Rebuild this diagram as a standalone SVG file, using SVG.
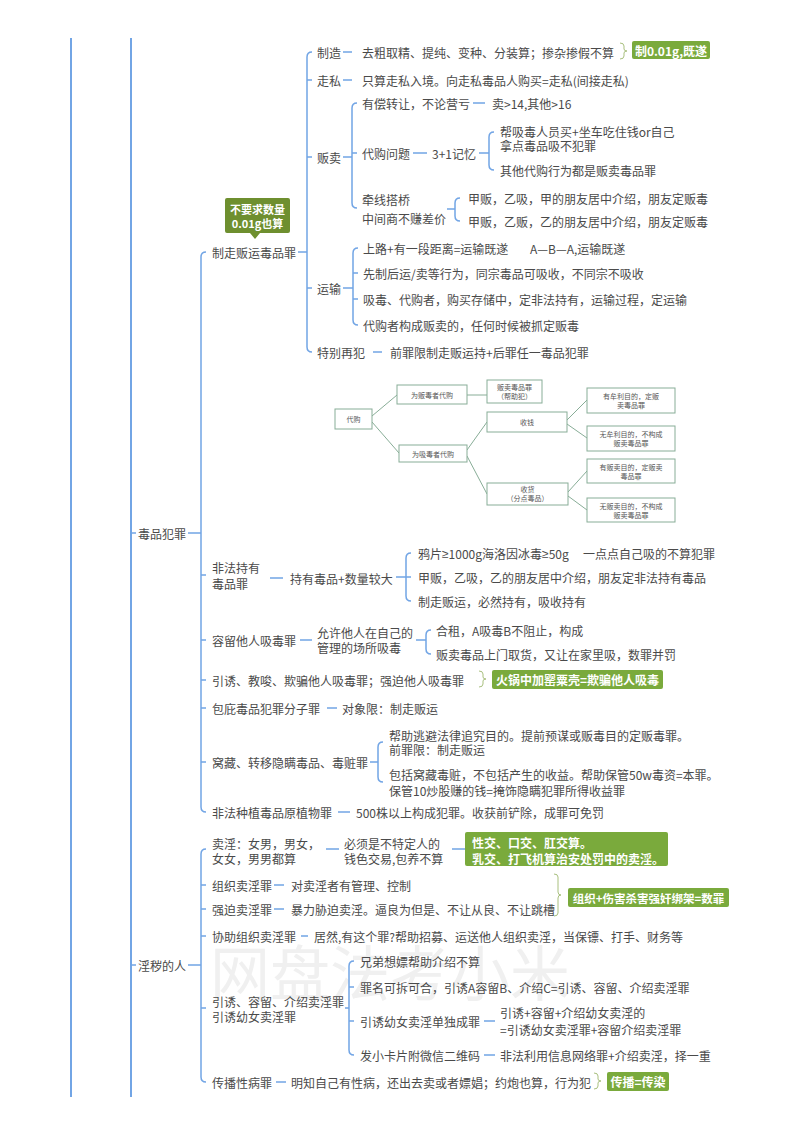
<svg xmlns="http://www.w3.org/2000/svg" width="800" height="1132" viewBox="0 0 800 1132">
<style>
.t{font-family:"Noto Sans CJK SC","Noto Sans",sans-serif;font-size:12px;fill:#4a4a4a;dominant-baseline:central}
.l{fill:none;stroke:#72a5e5;stroke-width:1.5}
.m{fill:none;stroke:#72a5e5;stroke-width:2}
.g{fill:#7aaa3c}
.gd{fill:#6e8f2f}
.gt{font-family:"Noto Sans CJK SC","Noto Sans",sans-serif;font-size:12px;font-weight:bold;fill:#fff;dominant-baseline:central}
.br{fill:none;stroke:#a9c07f;stroke-width:1}
.b{fill:#fff;stroke:#88ad97;stroke-width:1}
.bl{fill:none;stroke:#88ad97;stroke-width:1}
.s{font-family:"Noto Sans CJK SC","Noto Sans",sans-serif;font-size:7px;fill:#555;text-anchor:middle;dominant-baseline:central}
.wm{font-family:"Noto Sans CJK SC",sans-serif;font-size:60px;fill:#f0f0f0}
.n{font-family:"Noto Sans",sans-serif}
</style>
<rect width="800" height="1132" fill="#fff"/>
<text class="wm" x="210" y="996">网盘法考小米</text>

<g id="connectors">
<path class="m" d="M71 38V1097M131 38V1097"/>
<path class="l" d="M131 533h5M131 965h5M188 533H201M188 965H201"/>
<path class="l" d="M206 252Q201 252 201 257V807Q201 812 206 812M201 575h5M201 640h5M201 680h5M201 708h5M201 762h5"/>
<path class="l" d="M206 849Q201 849 201 854V1077Q201 1082 206 1082M201 885h5M201 909h5M201 936h5M201 1008h5"/>
<path class="l" d="M298 252H307M312 52Q307 52 307 57V347Q307 352 312 352M307 80h5M307 157h5M307 288h5"/>
<path class="l" d="M343 52H352M343 80H352"/>
<path class="l" d="M343 157H352M357 103Q352 103 352 108V203Q352 208 357 208M352 153h5"/>
<path class="l" d="M473 103H485M413 153H427"/>
<path class="l" d="M479 153H489M494 132Q489 132 489 137V165Q489 170 494 170"/>
<path class="l" d="M447 209H455M460 198Q455 198 455 203V216Q455 221 460 221"/>
<path class="l" d="M343 288H353M358 248Q353 248 353 253V320Q353 325 358 325M353 273h5M353 299h5"/>
<path class="l" d="M373 352H382"/>
<path class="l" d="M270 578H283M396 577H406M411 553Q406 553 406 558V596Q406 601 411 601M406 577h5"/>
<path class="l" d="M300 640H312M416 640H426M431 630Q426 630 426 635V649Q426 654 431 654"/>
<path class="l" d="M327 708H337"/>
<path class="l" d="M370 762H378M383 742Q378 742 378 747V777Q378 782 383 782"/>
<path class="l" d="M338 812H350"/>
<path class="l" d="M326 849H339M452 849H465"/>
<path class="l" d="M274 885H284M274 909H284M301 936H308"/>
<path class="l" d="M345 1008H349M354 961Q349 961 349 966V1050Q349 1055 354 1055M349 987h5M349 1021h5"/>
<path class="l" d="M484 1021H495M484 1055H495"/>
<path class="l" d="M276 1082H286"/>
<path class="br" d="M620 43q4 0 4 3v3q0 2 3 2q-3 0 -3 2v3q0 3 -4 3"/>
<path class="br" d="M479 671q4 0 4 3v3q0 2 3 2q-3 0 -3 2v3q0 3 -4 3"/>
<path class="br" d="M554 874q4 0 4 3v15q0 3 3 3q-3 0 -3 3v15q0 3 -4 3"/>
<path class="br" d="M594 1073q4 0 4 3v3q0 2 3 2q-3 0 -3 2v3q0 3 -4 3"/>
</g>

<g id="root">
<text class="t" x="138" y="533">毒品犯罪</text>
<text class="t" x="138" y="965">淫秽的人</text>
</g>

<g id="n-zhizou">
<text class="t" x="212" y="252">制走贩运毒品罪</text>
<path class="gd" d="M227 198H288Q290 198 290 200V231Q290 233 288 233H260L255 239L250 233H227Q225 233 225 231V200Q225 198 227 198Z"/>
<text class="gt" x="257.5" y="209" text-anchor="middle" style="font-size:11px">不要求数量</text>
<text class="gt" x="257.5" y="223" text-anchor="middle" style="font-size:11px">0.01g也算</text>
</g>

<g id="n-zhizao">
<text class="t" x="317" y="52">制造</text>
<text class="t" x="362" y="52">去粗取精、提纯、变种、分装算；掺杂掺假不算</text>
<rect class="g" x="632" y="41" width="78" height="18" rx="2"/>
<text class="gt" x="671" y="50" text-anchor="middle">制0.01g,既遂</text>
</g>
<g id="n-zousi">
<text class="t" x="317" y="80">走私</text>
<text class="t" x="362" y="80">只算走私入境。向走私毒品人购买=走私(间接走私)</text>
</g>
<g id="n-fanmai">
<text class="t" x="317" y="157">贩卖</text>
<text class="t" x="362" y="103">有偿转让，不论营亏</text>
<text class="t" x="492" y="103">卖&gt;14,其他&gt;16</text>
<text class="t" x="362" y="153">代购问题</text>
<text class="t" x="432" y="153">3+1记忆</text>
<text class="t" x="500" y="131">帮吸毒人员买+坐车吃住钱or自己</text>
<text class="t" x="500" y="145">拿点毒品吸不犯罪</text>
<text class="t" x="500" y="170">其他代购行为都是贩卖毒品罪</text>
<text class="t" x="362" y="199">牵线搭桥</text>
<text class="t" x="362" y="218">中间商不赚差价</text>
<text class="t" x="468" y="198">甲贩，乙吸，甲的朋友居中介绍，朋友定贩毒</text>
<text class="t" x="468" y="221">甲贩，乙贩，乙的朋友居中介绍，朋友定贩毒</text>
</g>
<g id="n-yunshu">
<text class="t" x="317" y="288">运输</text>
<text class="t" x="363" y="248">上路+有一段距离=运输既遂</text>
<text class="t" x="530" y="248">A—B—A,运输既遂</text>
<text class="t" x="363" y="273">先制后运/卖等行为，同宗毒品可吸收，不同宗不吸收</text>
<text class="t" x="363" y="299">吸毒、代购者，购买存储中，定非法持有，运输过程，定运输</text>
<text class="t" x="363" y="325">代购者构成贩卖的，任何时候被抓定贩毒</text>
</g>
<g id="n-tebie">
<text class="t" x="317" y="352">特别再犯</text>
<text class="t" x="390" y="352">前罪限制走贩运持+后罪任一毒品犯罪</text>
</g>

<g id="inset">
<path class="bl" d="M372 416L397 395M372 422L399 453M467 395H487M467 450L487 422M467 456L487 494M567 420L587 400M567 424L587 438M568 492L587 471M568 496L587 510"/>
<rect class="b" x="335" y="409" width="37" height="20"/>
<text class="s" x="353.5" y="419">代购</text>
<rect class="b" x="397" y="385" width="70" height="19"/>
<text class="s" x="432" y="394.5">为贩毒者代购</text>
<rect class="b" x="487" y="380" width="55" height="23"/>
<text class="s" x="514.5" y="387">贩卖毒品罪</text>
<text class="s" x="514.5" y="396">（帮助犯）</text>
<rect class="b" x="399" y="445" width="68" height="17"/>
<text class="s" x="433" y="453.5">为吸毒者代购</text>
<rect class="b" x="487" y="412" width="80" height="20"/>
<text class="s" x="527" y="422">收钱</text>
<rect class="b" x="487" y="483" width="81" height="22"/>
<text class="s" x="527.5" y="489">收货</text>
<text class="s" x="527.5" y="498">（分点毒品）</text>
<rect class="b" x="587" y="388" width="88" height="25"/>
<text class="s" x="631" y="396">有牟利目的，定贩</text>
<text class="s" x="631" y="405">卖毒品罪</text>
<rect class="b" x="587" y="426" width="88" height="25"/>
<text class="s" x="631" y="434">无牟利目的，不构成</text>
<text class="s" x="631" y="443">贩卖毒品罪</text>
<rect class="b" x="587" y="459" width="88" height="24"/>
<text class="s" x="631" y="467">有贩卖目的，定贩卖</text>
<text class="s" x="631" y="476">毒品罪</text>
<rect class="b" x="587" y="498" width="88" height="24"/>
<text class="s" x="631" y="506">无贩卖目的，不构成</text>
<text class="s" x="631" y="515">贩卖毒品罪</text>
</g>

<g id="n-feifachiyou">
<text class="t" x="212" y="567">非法持有</text>
<text class="t" x="212" y="583">毒品罪</text>
<text class="t" x="290" y="578">持有毒品+数量较大</text>
<text class="t" x="418" y="553">鸦片<tspan class="n">≥</tspan>1000g海洛因冰毒<tspan class="n">≥</tspan>50g</text>
<text class="t" x="583" y="553">一点点自己吸的不算犯罪</text>
<text class="t" x="418" y="577">甲贩，乙吸，乙的朋友居中介绍，朋友定非法持有毒品</text>
<text class="t" x="418" y="601">制走贩运，必然持有，吸收持有</text>
</g>
<g id="n-rongliu">
<text class="t" x="212" y="640">容留他人吸毒罪</text>
<text class="t" x="317" y="632">允许他人在自己的</text>
<text class="t" x="317" y="647">管理的场所吸毒</text>
<text class="t" x="436" y="630">合租，A吸毒B不阻止，构成</text>
<text class="t" x="436" y="654">贩卖毒品上门取货，又让在家里吸，数罪并罚</text>
</g>
<g id="n-yinyou">
<text class="t" x="212" y="680">引诱、教唆、欺骗他人吸毒罪；强迫他人吸毒罪</text>
<rect class="g" x="492" y="670" width="171" height="19" rx="2"/>
<text class="gt" x="577.5" y="679.5" text-anchor="middle">火锅中加罂粟壳=欺骗他人吸毒</text>
</g>
<g id="n-baobi">
<text class="t" x="212" y="708">包庇毒品犯罪分子罪</text>
<text class="t" x="342" y="708">对象限：制走贩运</text>
</g>
<g id="n-wocang">
<text class="t" x="212" y="762">窝藏、转移隐瞒毒品、毒赃罪</text>
<text class="t" x="389" y="735">帮助逃避法律追究目的。提前预谋或贩毒目的定贩毒罪。</text>
<text class="t" x="389" y="749">前罪限：制走贩运</text>
<text class="t" x="389" y="774">包括窝藏毒赃，不包括产生的收益。帮助保管50w毒资=本罪。</text>
<text class="t" x="389" y="790">保管10炒股赚的钱=掩饰隐瞒犯罪所得收益罪</text>
</g>
<g id="n-zhongzhi">
<text class="t" x="212" y="812">非法种植毒品原植物罪</text>
<text class="t" x="356" y="812">500株以上构成犯罪。收获前铲除，成罪可免罚</text>
</g>

<g id="n-maiyin">
<text class="t" x="212" y="843">卖淫：女男，男女，</text>
<text class="t" x="212" y="858">女女，男男都算</text>
<text class="t" x="344" y="843">必须是不特定人的</text>
<text class="t" x="344" y="858">钱色交易,包养不算</text>
<rect class="g" x="465" y="832" width="203" height="34" rx="2"/>
<text class="gt" x="472" y="842">性交、口交、肛交算。</text>
<text class="gt" x="472" y="858">乳交、打飞机算治安处罚中的卖淫。</text>
</g>
<g id="n-zuzhi">
<text class="t" x="212" y="885">组织卖淫罪</text>
<text class="t" x="291" y="885">对卖淫者有管理、控制</text>
</g>
<g id="n-qiangpo">
<text class="t" x="212" y="909">强迫卖淫罪</text>
<text class="t" x="291" y="909">暴力胁迫卖淫。逼良为但是、不让从良、不让跳槽</text>
<rect class="g" x="568" y="888" width="161" height="19" rx="2"/>
<text class="gt" x="648.5" y="897.5" text-anchor="middle" style="font-size:11.5px">组织+伤害杀害强奸绑架=数罪</text>
</g>
<g id="n-xiezhu">
<text class="t" x="212" y="936">协助组织卖淫罪</text>
<text class="t" x="314" y="936">居然,有这个罪?帮助招募、运送他人组织卖淫，当保镖、打手、财务等</text>
</g>
<g id="n-yinyourongliu">
<text class="t" x="212" y="1001">引诱、容留、介绍卖淫罪</text>
<text class="t" x="212" y="1016">引诱幼女卖淫罪</text>
<text class="t" x="360" y="961">兄弟想嫖帮助介绍不算</text>
<text class="t" x="360" y="987">罪名可拆可合，引诱A容留B、介绍C=引诱、容留、介绍卖淫罪</text>
<text class="t" x="360" y="1021">引诱幼女卖淫单独成罪</text>
<text class="t" x="500" y="1012">引诱+容留+介绍幼女卖淫的</text>
<text class="t" x="500" y="1029">=引诱幼女卖淫罪+容留介绍卖淫罪</text>
<text class="t" x="360" y="1055">发小卡片附微信二维码</text>
<text class="t" x="500" y="1055">非法利用信息网络罪+介绍卖淫，择一重</text>
</g>
<g id="n-chuanbo">
<text class="t" x="212" y="1082">传播性病罪</text>
<text class="t" x="291" y="1082">明知自己有性病，还出去卖或者嫖娼；约炮也算，行为犯</text>
<rect class="g" x="607" y="1072" width="62" height="19" rx="2"/>
<text class="gt" x="638" y="1081.5" text-anchor="middle">传播=传染</text>
</g>
</svg>
